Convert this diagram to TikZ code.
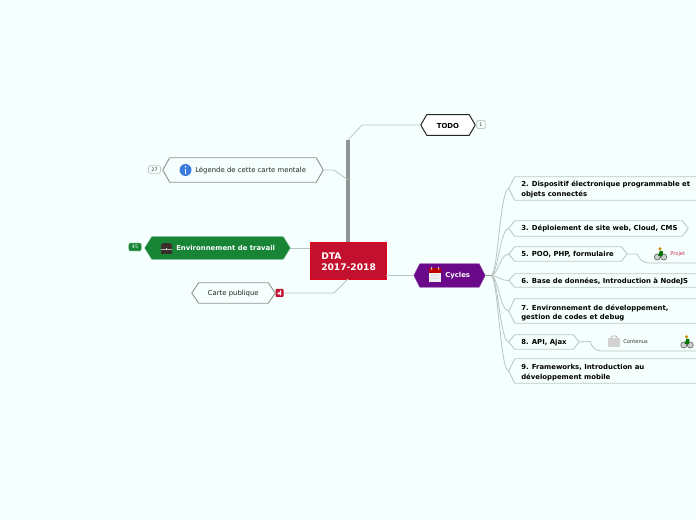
\documentclass[tikz,border=0pt]{standalone}
\usepackage{fontspec}
\setmainfont{DejaVu Sans}
\usetikzlibrary{fit}
\definecolor{bgc}{HTML}{F5FFFD}
\definecolor{linec}{HTML}{B9C4C2}
\definecolor{trunk}{HTML}{8E9594}
\definecolor{edgec}{HTML}{8F9695}
\definecolor{lightedge}{HTML}{BFCAC8}
\definecolor{redc}{HTML}{C4102F}
\definecolor{greenc}{HTML}{178535}
\definecolor{purplec}{HTML}{6A0A8B}
\definecolor{infoc}{HTML}{3B7DDD}
\definecolor{casec}{HTML}{3A2E2A}
\newcommand{\fs}[2]{\fontsize{#1}{#2}\selectfont}
\newcommand{\hexn}[7]{%
  \node[fit={(#2,#3)(#4,#5)},inner sep=0pt,rectangle] (#1) {};
  \draw[#7,line join=round] (#1.west) -- ([xshift=#6*0.75pt]#1.north west) -- ([xshift=-#6*0.75pt]#1.north east) -- (#1.east) -- ([xshift=-#6*0.75pt]#1.south east) -- ([xshift=#6*0.75pt]#1.south west) -- cycle;}
\newcommand{\cyclist}[2]{%
  \begin{scope}[shift={(#1,#2)}]
    \fill[gray!35] (-3.2,3) circle[radius=3] (3.2,3) circle[radius=3];
    \draw[gray!85!black,line width=.55pt] (-3.2,3) circle[radius=3] (3.2,3) circle[radius=3];
    \fill[green!45!black] (-2.5,2) -- (-0.5,-3.5) -- (2.5,-2.5) -- (2,2.5) -- cycle;
    \fill[orange!70!yellow!80!black] (-0.5,-5.3) circle[radius=1.6];
  \end{scope}}
\tikzset{
  soft/.style={draw=linec,line width=.6pt},
  whitehex/.style={draw=edgec,fill=bgc,line width=.7pt},
  subhex/.style={draw=lightedge,fill=bgc,line width=.7pt},
  lbl/.style={inner sep=0pt,anchor=west,text=black,align=left},
  boldlbl/.style={lbl,font=\fs{5.17}{7}\bfseries},
  badge/.style={draw=lightedge,fill=bgc,rounded corners=1pt,inner sep=0pt,line width=.6pt,font=\fs{3.6}{4},text=black!80},
}
\begin{document}
\begin{tikzpicture}[x=0.75pt,y=-0.75pt]
\useasboundingbox (0,0) rectangle (696,520);
\fill[bgc] (0,0) rectangle (696,520);
\clip (0,0) rectangle (696,520);
% shapes
\node[fit={(310,242)(386,279)},inner sep=0pt,rectangle,fill=redc,draw=red!50!redc,line width=.4pt] (dta) {};
\hexn{todo}{421}{115}{475}{135}{6}{draw=black!85,fill=white,line width=.75pt}
\hexn{leg}{163}{158}{323}{182}{7}{whitehex}
\hexn{env}{145}{237}{290}{259}{7}{fill=greenc,draw=greenc!70!white,line width=.3pt}
\hexn{carte}{192}{283}{275}{303}{7}{whitehex}
\hexn{cyc}{414}{264}{485}{287}{6}{fill=purplec,draw=purplec!70!white,line width=.3pt}
\hexn{n2}{509}{177}{712}{200}{6}{subhex}
\hexn{n3}{509}{221}{688}{236}{6}{subhex}
\hexn{n5}{509}{247}{627}{261}{6}{subhex}
\hexn{n6}{509}{274}{702}{287}{6}{subhex}
\hexn{n7}{509}{299}{712}{323}{6}{subhex}
\hexn{n8}{509}{335}{579}{349}{6}{subhex}
\hexn{n9}{509}{359}{712}{383}{6}{subhex}
% connector helpers
\coordinate (trunktop) at (348,140);
\coordinate (trunkbot) at (348,242);
\coordinate (todoknee) at (362,125);
\coordinate (legknee) at (334,170);
\coordinate (legjoin) at (348,180);
\coordinate (carteknee) at (334,293);
\coordinate (cartejoin) at (348,279);
\coordinate (hub) at (491,275.5);
\coordinate (c5a) at (650,263);
\coordinate (c5b) at (702,263);
\coordinate (c8a) at (602,351);
\coordinate (c8b) at (702,351);
% connectors
\draw[draw=trunk,line width=2.3pt] (trunkbot) -- (trunktop);
\draw[soft] (trunktop) -- (todoknee) -- (todo.west);
\draw[soft] (leg.east) -- (legknee) -- (legjoin);
\draw[soft] (env.east) -- (env.east -| dta.west);
\draw[soft] (carte.east) ++(4,0) -- (carteknee) -- (cartejoin);
\draw[soft] (cyc.west -| dta.east) -- (cyc.west);
\draw[draw=trunk,line width=.7pt] (cyc.east) -- (hub);
\foreach \n in {n2,n3,n5,n6,n7,n8,n9}{
  \draw[soft] (hub) .. controls (498,275.5) and (500,0 |- \n.west) .. (\n.west);
}
\draw[soft] (n5.east) -- (637,254) .. controls (640,260) and (643,263) .. (c5a) -- (c5b);
\draw[soft] (n8.east) -- (590,341.5) .. controls (592,347) and (595,351) .. (c8a) -- (c8b);
% labels
\node[lbl,font=\fs{6.85}{8.3}\bfseries,text=white] (tdta) at (321,261.5) {DTA\\2017-2018};
\node[lbl,font=\fs{5.17}{6}\bfseries,anchor=center] (ttodo) at (448,125.5) {TODO};
\node[lbl,font=\fs{5.17}{6},text=black!85] (tleg) at (195,170) {Légende de cette carte mentale};
\node[lbl,font=\fs{5.17}{6}\bfseries,text=white] (tenv) at (176,247.5) {Environnement de travail};
\node[lbl,font=\fs{5.17}{6},text=black!85] (tcarte) at (207.5,293.5) {Carte publique};
\node[lbl,font=\fs{5.17}{6}\bfseries,text=white] (tcyc) at (445,275.5) {Cycles};
\node[boldlbl] (t2) at (521,189.5) {2. Dispositif électronique programmable et\\objets connectés};
\node[boldlbl] (t3) at (521,228.5) {3. Déploiement de site web, Cloud, CMS};
\node[boldlbl] (t5) at (521,254.5) {5. POO, PHP, formulaire};
\node[boldlbl] (t6) at (521,281) {6. Base de données, Introduction à NodeJS};
\node[boldlbl] (t7) at (521,313) {7. Environnement de développement,\\gestion de codes et debug};
\node[boldlbl] (t8) at (521,342.5) {8. API, Ajax};
\node[boldlbl] (t9) at (521,372.5) {9. Frameworks, Introduction au\\développement mobile};
\node[lbl,font=\fs{3.9}{5},text=redc!85] (tproj) at (670,254) {Projet};
\node[lbl,font=\fs{3.9}{5},text=black!80] (tcont) at (623,342) {Contenus};
% badges
\node[badge,minimum width=9pt,minimum height=5.5pt] (b27) at (154.5,169.5) {27};
\node[badge,minimum width=6.5pt,minimum height=6pt] (b1) at (481,124.5) {1};
\node[badge,fill=greenc,draw=greenc,text=white,minimum width=9pt,minimum height=5.5pt] (b45) at (135,247) {45};
% red share badge
\node[fill=redc,rounded corners=.7pt,minimum width=6pt,minimum height=6pt,inner sep=0pt] (bshare) at (279.5,293) {};
\fill[white] (277.5,292.5) rectangle (279.5,294.5) (279.8,290.5) rectangle (281,295.5);
% info icon
\fill[infoc] (185.5,170) circle[radius=6];
\fill[white] (185.5,166.8) circle[radius=.9];
\fill[white] (184.7,168.8) rectangle (186.3,173.8);
% briefcase
\fill[casec] (160.5,244.5) rectangle (172,254);
\draw[casec,line width=.5pt] (163.5,244.5) -- (163.5,243) -- (169,243) -- (169,244.5);
\fill[gray!60] (160.5,248.7) rectangle (172,249.2);
\fill[white!85!black] (165.6,248) rectangle (167,250);
% calendar
\fill[white!88!gray] (429,271) rectangle (441,282);
\fill[red!75!black] (429,268) rectangle (441,273);
\fill[gray!50] (431,267) rectangle (432,270) (438,267) rectangle (439,270);
\fill[gray!25] (431,275) rectangle (439,276) (431,278) rectangle (439,279);
% box icon
\fill[gray!35] (608,338) rectangle (620,347);
\draw[gray!60,line width=.5pt] (611,338) -- (612,336) -- (616,336) -- (617,338);
% cyclists
\cyclist{660.5}{254}
\cyclist{687}{342}
\end{tikzpicture}
\end{document}
